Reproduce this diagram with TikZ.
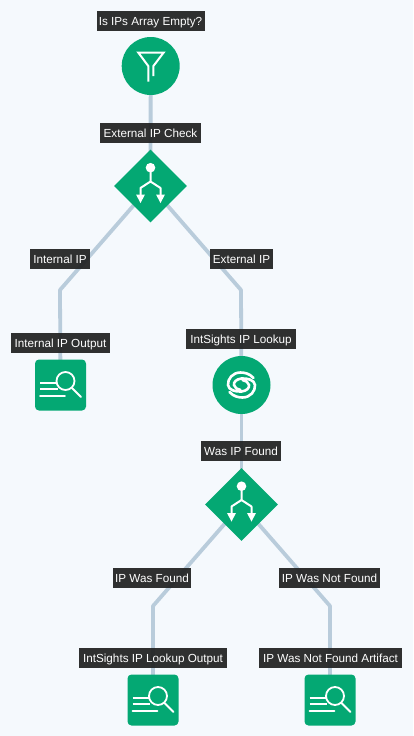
\documentclass[tikz,border=0pt]{standalone}
\usepackage{fontspec}
\setmainfont{Liberation Sans}
\usetikzlibrary{backgrounds,shapes.geometric}
\definecolor{pagebg}{HTML}{F5F9FD}
\definecolor{linkc}{HTML}{B9CCDB}
\definecolor{nodegreen}{HTML}{04A873}
\definecolor{labelbg}{HTML}{212121}
\tikzset{
  x=1pt,y=-1pt,
  lab/.style={fill=labelbg,fill opacity=0.93,text opacity=1,text=white,font=\fontsize{11.7}{14}\selectfont,
    inner sep=0pt,minimum height=19.5pt,text depth=0pt,anchor=center},
  circlenode/.style={circle,fill=nodegreen,minimum size=58pt,inner sep=0pt},
  diamondnode/.style={diamond,fill=nodegreen,minimum width=73pt,minimum height=73pt,inner sep=0pt},
  squarenode/.style={rectangle,rounded corners=4pt,fill=nodegreen,minimum size=51pt,inner sep=0pt},
  link/.style={draw=linkc,line width=3.8pt,line join=round},
  ic/.style={draw=white,line width=1.8pt,fill=none},
  artifacticon/.pic={
    \draw[ic] (5,-4) circle[radius=9];
    \draw[ic,line cap=round] (11.5,3) -- (20.5,12);
    \draw[ic] (-20.5,-2.3) -- (-4,-2.3) (-20.5,4) -- (-3,4);
    \draw[ic,line cap=round] (-20.5,11) -- (4.5,11);
  },
  decisionicon/.pic={
    \fill[white] (0,-18.3) circle[radius=4.8];
    \draw[ic,line width=2pt,line join=round] (0,-18) -- (0,-4.5) (0,-4.5) -- (-10,2) -- (-10,10) (0,-4.5) -- (10,2) -- (10,10);
    \fill[white] (-14.5,8.5) -- (-5.5,8.5) -- (-10,17) -- cycle;
    \fill[white] (5.5,8.5) -- (14.5,8.5) -- (10,17) -- cycle;
  },
  filtericon/.pic={
    \draw[ic,line width=2pt,line join=miter] (-2.4,15.7) -- (-2.4,0) -- (-12.5,-13.5) -- (13,-13.5) -- (2.7,0) -- (2.7,10);
  },
  swirlarm/.style={ic,line width=2.6pt,line cap=round},
  swirlicon/.pic={
    \draw[swirlarm] (12,-7) .. controls (8,-11.5) and (3,-12.5) .. (-1,-12.5) .. controls (-9,-12.5) and (-14,-6) .. (-13.5,0) .. controls (-13,5) and (-6,7) .. (0,6.5) .. controls (5,6) and (8,3) .. (7.5,0) .. controls (7,-3) and (4,-4.5) .. (1,-5);
    \draw[swirlarm,rotate=180] (12,-7) .. controls (8,-11.5) and (3,-12.5) .. (-1,-12.5) .. controls (-9,-12.5) and (-14,-6) .. (-13.5,0) .. controls (-13,5) and (-6,7) .. (0,6.5) .. controls (5,6) and (8,3) .. (7.5,0) .. controls (7,-3) and (4,-4.5) .. (1,-5);
  },
}
\begin{document}
\begin{tikzpicture}
\useasboundingbox (0,0) rectangle (413,736);
% nodes
\node[circlenode] (filter) at (150.7,66) {};
\node[diamondnode] (d1) at (150.5,186) {};
\node[squarenode] (out1) at (60.5,385) {};
\node[circlenode] (lookup) at (241.5,385) {};
\node[diamondnode] (d2) at (241.5,504.5) {};
\node[squarenode] (out2) at (153,700) {};
\node[squarenode] (out3) at (330,700) {};
\coordinate (b1) at (60,290);
\coordinate (b2) at (241,290);
\coordinate (b3) at (153,606);
\coordinate (b4) at (330,606);
% icons
\pic at (filter.center) {filtericon};
\pic at (d1.center) {decisionicon};
\pic at (d2.center) {decisionicon};
\pic at (lookup.center) {swirlicon};
\pic at (out1.center) {artifacticon};
\pic at (out2.center) {artifacticon};
\pic at (out3.center) {artifacticon};
% labels
\node[lab,minimum width=108pt] (l1) at (150.5,21) {Is IPs Array Empty?};
\node[lab,minimum width=101pt] (l2) at (150.5,133) {External IP Check};
\node[lab,minimum width=60pt] (l3) at (60,259) {Internal IP};
\node[lab,minimum width=63pt] (l4) at (241.5,259) {External IP};
\node[lab,minimum width=99pt] (l5) at (60.5,343) {Internal IP Output};
\node[lab,minimum width=110pt] (l6) at (241,339) {IntSights IP Lookup};
\node[lab,minimum width=80pt] (l7) at (241,451) {Was IP Found};
\node[lab,minimum width=78pt] (l8) at (152,578) {IP Was Found};
\node[lab,minimum width=101pt] (l9) at (329.5,578) {IP Was Not Found};
\node[lab,minimum width=148pt] (l10) at (153,658) {IntSights IP Lookup Output};
\node[lab,minimum width=143pt] (l11) at (330.5,658) {IP Was Not Found Artifact};
\begin{scope}[on background layer]
\fill[pagebg] (0,0) rectangle (413,736);
\draw[link] (filter.center) -- (d1.center);
\draw[link] (d1.center) -- (b1) -- (out1.center);
\draw[link] (d1.center) -- (b2) -- (lookup.center);
\draw[link] (lookup.center) -- (d2.center);
\draw[link] (d2.center) -- (b3) -- (out2.center);
\draw[link] (d2.center) -- (b4) -- (out3.center);
\end{scope}
\end{tikzpicture}
\end{document}
